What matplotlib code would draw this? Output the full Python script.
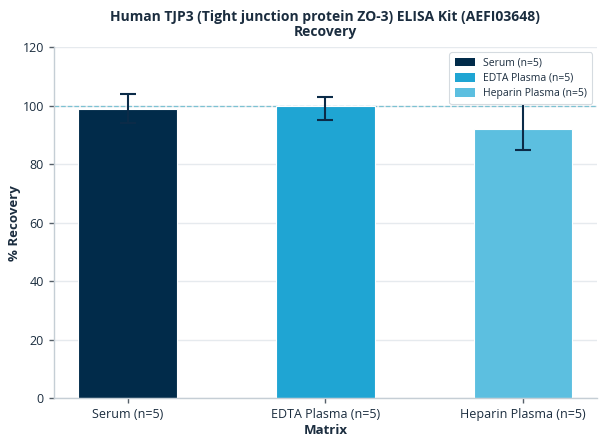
import matplotlib
matplotlib.use("Agg")
import matplotlib.pyplot as plt
from matplotlib.patches import Patch
import numpy as np

categories = ["Serum (n=5)", "EDTA Plasma (n=5)", "Heparin Plasma (n=5)"]
recovery = [99, 100, 92]
err_low = [5, 5, 7]
err_high = [5, 3, 12]
colors = ["#012b4a", "#1fa5d3", "#5cbfe0"]

title = "Human TJP3 (Tight junction protein ZO-3) ELISA Kit (AEFI03648)\nRecovery"
yticks = [0, 20, 40, 60, 80, 100, 120]

plt.rcParams['font.family'] = ['Open Sans', 'DejaVu Sans']
text_color = "#1b2d3f"

fig = plt.figure(figsize=(6.08, 4.44), dpi=100)
ax = fig.add_axes([0.088, 0.103, 0.894, 0.7905])

x = np.arange(len(categories))
ax.bar(x, recovery, width=0.5, color=colors, edgecolor="white", linewidth=0.8, zorder=2)
ax.errorbar(x, recovery, yerr=[err_low, err_high], fmt="none", ecolor="#0b2b48",
            elinewidth=1.5, capsize=6, capthick=1.5, zorder=3)
ax.axhline(100, color="#7cc2d2", linestyle="--", linewidth=0.9, zorder=1)

ax.set_ylim(0, 120)
ax.set_yticks(yticks)
ax.set_xticks(x)
ax.set_xticklabels(categories)
ax.grid(axis="y", color="#e6eaee", linewidth=1, zorder=0)
ax.set_axisbelow(True)

for s in ["top", "right"]:
    ax.spines[s].set_visible(False)
for s in ["left", "bottom"]:
    ax.spines[s].set_color("#c5ced5")
    ax.spines[s].set_linewidth(1)

ax.tick_params(axis="both", colors="#555f68", labelcolor=text_color, labelsize=9, length=3.5, width=1)

ax.set_xlabel("Matrix", fontsize=9.5, fontweight="bold", color=text_color, labelpad=2)
ax.set_ylabel("% Recovery", fontsize=9.5, fontweight="bold", color=text_color, labelpad=1)
ax.set_title(title, fontsize=10, fontweight="bold", color=text_color, pad=8, linespacing=1.1)

handles = [Patch(facecolor=c, edgecolor="none") for c in colors]
leg = ax.legend(handles, categories, loc="upper right", fontsize=7.5, frameon=True, borderpad=0.5,
                handlelength=2.0, handleheight=0.9, handletextpad=0.7, labelspacing=0.4,
                fancybox=True)
leg.get_frame().set_edgecolor("#d5dbe0")
leg.get_frame().set_linewidth(0.8)
leg.get_frame().set_alpha(1)
for t in leg.get_texts():
    t.set_color(text_color)

fig.savefig("out.png", dpi=100)
